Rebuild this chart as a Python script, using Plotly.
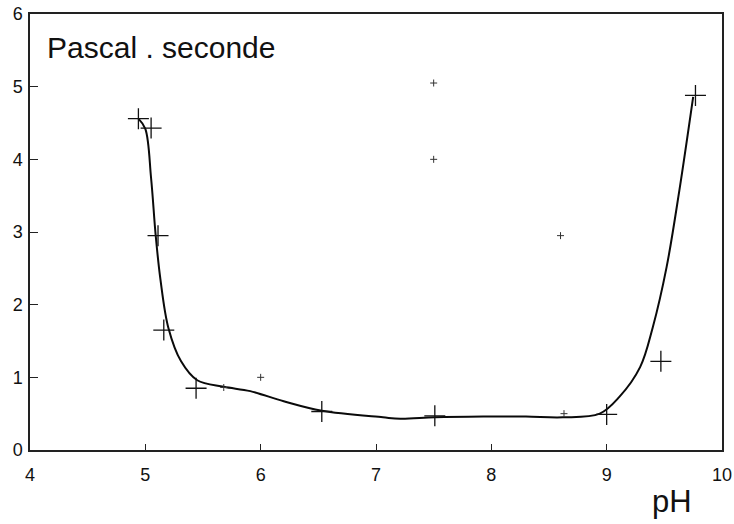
import plotly.graph_objects as go

# measured points (crosses)
ph_points = [4.94, 5.05, 5.11, 5.16, 5.44, 6.53, 7.51, 9.0, 9.47, 9.77]
visc_points = [4.56, 4.43, 2.95, 1.65, 0.85, 0.53, 0.47, 0.49, 1.22, 4.88]

# fitted smooth curve
ph_curve = [4.94, 5.0, 5.05, 5.09, 5.13, 5.2, 5.31, 5.45, 5.68, 5.91, 6.2, 6.53,
            7.06, 7.21, 7.51, 7.93, 8.3, 8.62, 8.94, 9.11, 9.29, 9.40, 9.52,
            9.63, 9.75]
visc_curve = [4.56, 4.42, 3.74, 2.95, 2.36, 1.68, 1.22, 0.96, 0.87, 0.81, 0.67, 0.54,
              0.45, 0.43, 0.45, 0.46, 0.46, 0.45, 0.50, 0.73, 1.14, 1.69, 2.52,
              3.57, 4.86]

# small secondary marks
ph_small = [5.68, 6.0, 8.63, 7.5, 7.5, 8.6]
visc_small = [0.86, 1.0, 0.5, 5.05, 4.0, 2.95]

x_ticks = [4, 5, 6, 7, 8, 9, 10]
y_ticks = [0, 1, 2, 3, 4, 5, 6]

FONT = "Liberation Sans, Arial, Helvetica"

fig = go.Figure()
fig.add_trace(go.Scatter(x=ph_curve, y=visc_curve, mode="lines",
                         line=dict(color="#0a0a0a", width=2, shape="spline", smoothing=1.0),
                         hoverinfo="skip"))
fig.add_trace(go.Scatter(x=ph_points, y=visc_points, mode="markers",
                         marker=dict(symbol="cross-thin", size=15,
                                     line=dict(color="#111", width=1.3))))
fig.add_trace(go.Scatter(x=ph_small, y=visc_small, mode="markers",
                         marker=dict(symbol="cross-thin", size=5,
                                     line=dict(color="#333", width=1))))

axis_common = dict(showgrid=False, zeroline=False, showline=True, mirror=True,
                   linecolor="#222", linewidth=1.5, ticks="inside",
                   tickcolor="#222", tickwidth=1.3, automargin=False,
                   tickfont=dict(family=FONT, size=18, color="#111"))

fig.update_xaxes(range=[4, 10], tickvals=x_ticks, ticklen=6, ticklabelstandoff=8,
                 **axis_common)
fig.update_yaxes(range=[0, 6], tickvals=y_ticks, ticklen=8, ticklabelstandoff=2,
                 **axis_common)

fig.add_annotation(text="Pascal . seconde", xref="paper", yref="paper",
                   x=0.021, y=0.966, xanchor="left", yanchor="top", showarrow=False,
                   font=dict(family=FONT, size=30, color="#111"))
fig.add_annotation(text="pH", xref="paper", yref="paper",
                   x=0.928, y=-0.118, xanchor="center", yanchor="middle", showarrow=False,
                   font=dict(family=FONT, size=31, color="#111"))

fig.update_layout(width=734, height=524, showlegend=False,
                  plot_bgcolor="white", paper_bgcolor="white",
                  margin=dict(l=30, r=12, t=14, b=74))

fig.write_html("out.html", config={"displayModeBar": False},
               post_script="document.body.style.margin='0';")
